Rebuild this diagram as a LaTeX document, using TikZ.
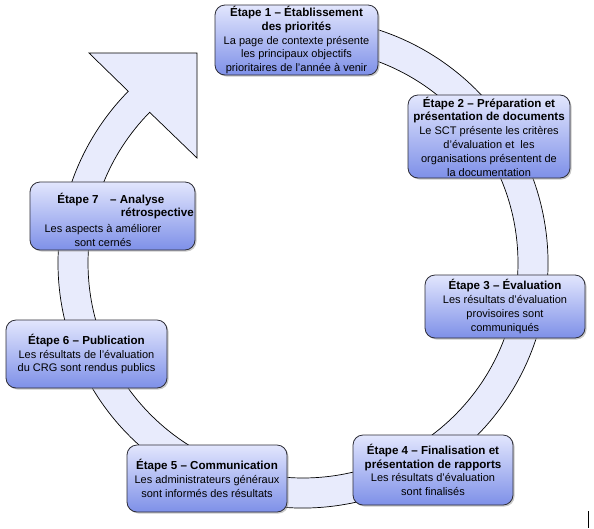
\documentclass[tikz,border=0pt]{standalone}
\usepackage{fontspec}
\setmainfont{Liberation Sans}
\usetikzlibrary{calc,shadows}
\definecolor{ringfill}{RGB}{232,235,252}
\definecolor{boxtop}{RGB}{226,230,253}
\definecolor{boxbot}{RGB}{126,144,232}
\definecolor{boxline}{RGB}{45,45,55}
\newcommand{\ttl}[1]{{\fontsize{11.6}{13.8}\selectfont\bfseries #1}}
\tikzset{
  stepbox/.style={draw=boxline, line width=0.8pt, rounded corners=10pt,
    top color=boxtop, bottom color=boxbot, inner sep=0pt, align=center,
    font=\fontsize{11}{13.8}\selectfont,
    drop shadow={shadow xshift=1.5pt, shadow yshift=-1.5pt, fill=black!35, opacity=0.6}},
  ringshape/.style={draw=black, line width=0.7pt, fill=ringfill},
  lbl/.style={inner sep=0pt, font=\fontsize{11}{13.8}\selectfont}
}
\begin{document}
\begin{tikzpicture}[x=1pt,y=-1pt]
\fill[white] (0,0) rectangle (594,528);
\useasboundingbox (0,0) rectangle (594,528);
\coordinate (c) at (303,263);
\coordinate (barbA) at (89,53);
\coordinate (tip) at (197,53);
\coordinate (barbB) at (197,158);
% circular arrow
\draw[ringshape] ($(c)+(-100:245)$) arc[start angle=-100,end angle=224.5,radius=245]
  -- (barbA) -- (tip) -- (barbB) -- ($(c)+(224.5:215)$)
  arc[start angle=224.5,end angle=-100,radius=215] -- cycle;
% step boxes
\node[stepbox, minimum width=163pt, minimum height=70pt] (s1) at (296.5,40)
  {\ttl{Étape 1 – Établissement}\\\ttl{des priorités}\\La page de contexte présente\\les principaux objectifs\\prioritaires de l'année à venir};
\node[stepbox, minimum width=162pt, minimum height=83pt] (s2) at (489,136.5)
  {\ttl{Étape 2 – Préparation et}\\\ttl{présentation de documents}\\Le SCT présente les critères\\d'évaluation et\ \ les\\organisations présentent de\\la documentation};
\node[stepbox, minimum width=160pt, minimum height=63pt] (s3) at (505,306.5)
  {\ttl{Étape 3 – Évaluation}\\Les résultats d'évaluation\\provisoires sont\\communiqués};
\node[stepbox, minimum width=160pt, minimum height=70pt] (s4) at (433,470)
  {\ttl{Étape 4 – Finalisation et}\\\ttl{présentation de rapports}\\Les résultats d'évaluation\\sont finalisés};
\node[stepbox, minimum width=160pt, minimum height=67pt] (s5) at (207,478.5)
  {\ttl{Étape 5 – Communication}\\Les administrateurs généraux\\sont informés des résultats};
\node[stepbox, minimum width=161pt, minimum height=68pt] (s6) at (86.5,354)
  {\ttl{Étape 6 – Publication}\\Les résultats de l'évaluation\\du CRG sont rendus publics};
\node[stepbox, minimum width=165pt, minimum height=68pt] (s7) at (112.5,216) {};
\node[lbl, anchor=base] (s7a) at (78,203) {\ttl{Étape 7}};
\node[lbl, anchor=base west] (s7b) at (110,203) {\ttl{– Analyse}};
\node[lbl, anchor=base east] (s7c) at (194,216.5) {\ttl{rétrospective}};
\node[lbl, anchor=base] (s7d) at (103,232) {Les aspects à améliorer};
\node[lbl, anchor=base] (s7e) at (103,246) {sont cernés};
% cursor mark
\coordinate (m1) at (588,511);
\coordinate (m2) at (588,528);
\draw[line width=0.8pt] (m1) -- (m2);
\end{tikzpicture}
\end{document}
